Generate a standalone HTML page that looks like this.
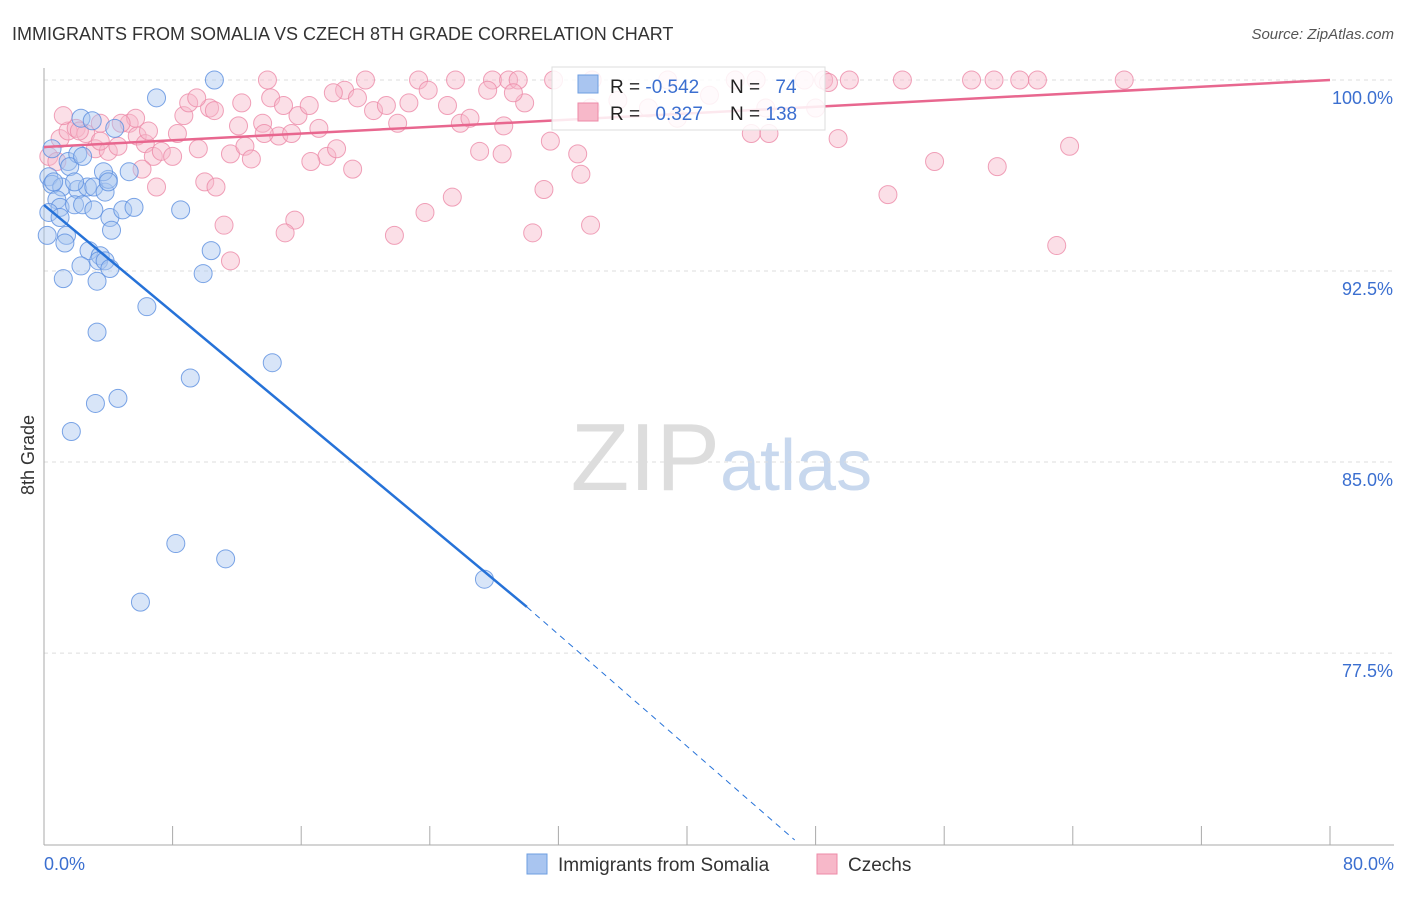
<!DOCTYPE html>
<html><head><meta charset="utf-8"><style>
body{margin:0;background:#fff;font-family:"Liberation Sans",sans-serif;}
svg text{font-family:"Liberation Sans",sans-serif;}
</style></head><body>
<svg id="chart" width="1406" height="892">
<text x="12" y="40" font-size="18" fill="#333">IMMIGRANTS FROM SOMALIA VS CZECH 8TH GRADE CORRELATION CHART</text>
<text x="1394" y="39" font-size="15" fill="#555" font-style="italic" text-anchor="end">Source: ZipAtlas.com</text>
<text x="720" y="490" font-size="96" fill="#ddd" font-family="Liberation Serif" text-anchor="end">ZIP</text>
<text x="720" y="490" font-size="72" fill="#c8d8ee">atlas</text>
<text transform="translate(34,455) rotate(-90)" font-size="18" fill="#333" text-anchor="middle">8th Grade</text>
<g id="grid"></g><g id="pts"></g><g id="lines"></g>
<g>
<rect x="552" y="67" width="273" height="63" fill="#fff" fill-opacity="0.85" stroke="#ddd"/>
<rect x="578" y="75" width="20" height="18" fill="#a9c5f0" stroke="#6d9ee0"/>
<rect x="578" y="103" width="20" height="18" fill="#f7b8c9" stroke="#ec8aa7"/>
<text x="610" y="93" font-size="19" fill="#222">R = <tspan fill="#3b6fd0">-0.542</tspan></text>
<text x="730" y="93" font-size="19" fill="#222">N = <tspan fill="#3b6fd0" dx="10">74</tspan></text>
<text x="610" y="120" font-size="19" fill="#222">R = <tspan fill="#3b6fd0" dx="10">0.327</tspan></text>
<text x="730" y="120" font-size="19" fill="#222">N = <tspan fill="#3b6fd0">138</tspan></text>
</g>
<g><rect x="527" y="854" width="20" height="20" fill="#a9c5f0" stroke="#6d9ee0"/><text x="558" y="871" font-size="19" fill="#333">Immigrants from Somalia</text></g>
<g><rect x="817" y="854" width="20" height="20" fill="#f7b8c9" stroke="#ec8aa7"/><text x="848" y="871" font-size="19" fill="#333">Czechs</text></g>
</svg>
<script>
const yTicks=[100,92.5,85,77.5];
const yTickLabels=["100.0%","92.5%","85.0%","77.5%"];
const xTickLabels=["0.0%","80.0%"];
const blueX=[10.6,7.0,2.3,3.0,4.4,0.5,1.5,2.1,1.6,0.3,0.5,1.1,2.1,2.7,3.1,3.8,4.0,5.3,3.7,0.8,1.0,1.9,2.4,3.1,4.1,4.9,5.6,8.5,0.2,1.4,1.3,2.8,3.5,4.2,3.4,3.8,4.1,2.3,1.2,3.3,10.4,9.9,6.4,3.3,14.2,9.1,4.6,3.2,1.7,8.2,11.3,27.4,6.0,0.6,0.3,1.0,2.4,4.0,1.9];
const blueY=[100.0,99.3,98.5,98.4,98.1,97.3,96.8,97.1,96.6,96.2,95.9,95.8,95.7,95.8,95.8,95.6,96.1,96.4,96.4,95.3,95.0,95.1,95.1,94.9,94.6,94.9,95.0,94.9,93.9,93.9,93.6,93.3,93.1,94.1,92.9,92.9,92.6,92.7,92.2,92.1,93.3,92.4,91.1,90.1,88.9,88.3,87.5,87.3,86.2,81.8,81.2,80.4,79.5,96.0,94.8,94.6,97.0,96.0,96.0];
const pinkX=[13.9,20.0,23.3,25.6,27.9,28.9,29.5,31.7,34.1,38.8,43.0,44.3,47.3,48.5,50.1,53.4,57.7,59.1,60.7,61.8,67.2,1.0,1.5,2.0,2.6,3.2,3.5,4.0,4.6,5.3,5.8,6.3,6.8,7.3,8.0,8.3,8.7,9.0,9.6,10.3,10.6,11.6,12.1,12.5,12.9,13.6,14.1,14.6,15.4,15.8,16.5,17.1,17.6,18.2,18.7,19.2,19.5,20.5,21.3,22.0,22.7,23.9,25.1,25.9,26.5,27.1,27.6,28.5,28.6,29.9,31.5,33.2,33.4,34.0,31.1,30.4,25.4,23.7,21.8,15.6,15.0,11.2,11.6,10.0,10.7,7.0,6.1,1.2,2.2,5.7,37.6,39.4,41.4,44.9,48.0,49.4,55.4,59.3,63.8,63.0,52.5,44.0,45.1,48.8,35.7,34.0,29.2,18.0,12.3,9.5,6.5,4.8,3.5,0.3,0.8,13.7,16.6,14.9];
const pinkY=[100,100,100,100,100,100,100,100,100,100,100,100,100,100,100,100,100,100,100,100,100,97.7,98.0,98.1,97.9,97.3,98.3,97.2,97.4,98.3,97.8,97.5,97.0,97.2,97.0,97.9,98.6,99.1,97.3,98.9,98.8,97.1,98.2,97.4,96.9,98.3,99.3,97.8,97.9,98.6,99.0,98.1,97.0,97.3,99.6,96.5,99.3,98.8,99.0,98.3,99.1,99.6,99.0,98.3,98.5,97.2,99.6,97.1,98.2,99.1,97.6,97.1,96.3,94.3,95.7,94.0,95.4,94.8,93.9,94.5,94.0,94.3,92.9,96.0,95.8,95.8,96.5,98.6,98.0,98.5,98.9,98.5,99.4,98.9,98.9,97.7,96.8,96.6,97.4,93.5,95.5,97.9,97.9,99.9,99.2,98.9,99.5,99.5,99.1,99.3,98.0,98.3,97.6,97.0,96.8,97.9,96.8,99.0];
const blueTrend=[[0,95.09],[30.04,79.31],[46.7,70.16]];
const pinkTrend=[[0,97.37],[80,100]];
const X=v=>44+v*16.075, Y=v=>80+(100-v)*25.47;
const NS="http://www.w3.org/2000/svg";
function mk(t,a,p){const e=document.createElementNS(NS,t);for(const k in a)e.setAttribute(k,a[k]);p.appendChild(e);return e;}
const grid=document.getElementById('grid');
yTicks.forEach((t,i)=>{
 const l=mk('line',{x1:44,x2:1394,y1:Y(t),y2:Y(t),stroke:'#ddd','stroke-dasharray':'4,4'},grid);
 
 
 const tx=mk('text',{x:1393,y:Y(t)+24,'font-size':18,fill:'#3b6fd0','text-anchor':'end'},grid);tx.textContent=yTickLabels[i];
 
 
});
mk('line',{x1:44,x2:44,y1:68,y2:845,stroke:'#aaa'},grid);
mk('line',{x1:44,x2:1394,y1:845,y2:845,stroke:'#aaa'},grid);
for(let i=0;i<=10;i++){const t=mk('line',{x1:X(i*8),x2:X(i*8),y1:826,y2:845,stroke:'#aaa'},grid);
 
 }
[[0,'start',44],[1,'end',1394]].forEach(([i,a,x])=>{const t=mk('text',{x:x,y:870,'font-size':18,fill:'#3b6fd0','text-anchor':a},grid);t.textContent=xTickLabels[i];
 
 });
const pts=document.getElementById('pts');
pinkX.forEach((x,i)=>{const c=mk('circle',{cx:X(x),cy:Y(pinkY[i]),r:9,fill:'#f7b8c9','fill-opacity':0.45,stroke:'#ec8aa7','stroke-opacity':0.8},pts);
 
 });
blueX.forEach((x,i)=>{const c=mk('circle',{cx:X(x),cy:Y(blueY[i]),r:9,fill:'#a9c5f0','fill-opacity':0.45,stroke:'#5b8fe0','stroke-opacity':0.8},pts);
 
 });
const ln=document.getElementById('lines');
const pl=mk('line',{x1:X(pinkTrend[0][0]),y1:Y(pinkTrend[0][1]),x2:X(pinkTrend[1][0]),y2:Y(pinkTrend[1][1]),stroke:'#e8678f','stroke-width':2.5},ln);


const bl=mk('line',{x1:X(blueTrend[0][0]),y1:Y(blueTrend[0][1]),x2:X(blueTrend[1][0]),y2:Y(blueTrend[1][1]),stroke:'#2672d8','stroke-width':2.5},ln);


const bd=mk('line',{x1:X(blueTrend[1][0]),y1:Y(blueTrend[1][1]),x2:X(blueTrend[2][0]),y2:Y(blueTrend[2][1]),stroke:'#2672d8','stroke-width':1,'stroke-dasharray':'6,5'},ln);


</script>
</body></html>
